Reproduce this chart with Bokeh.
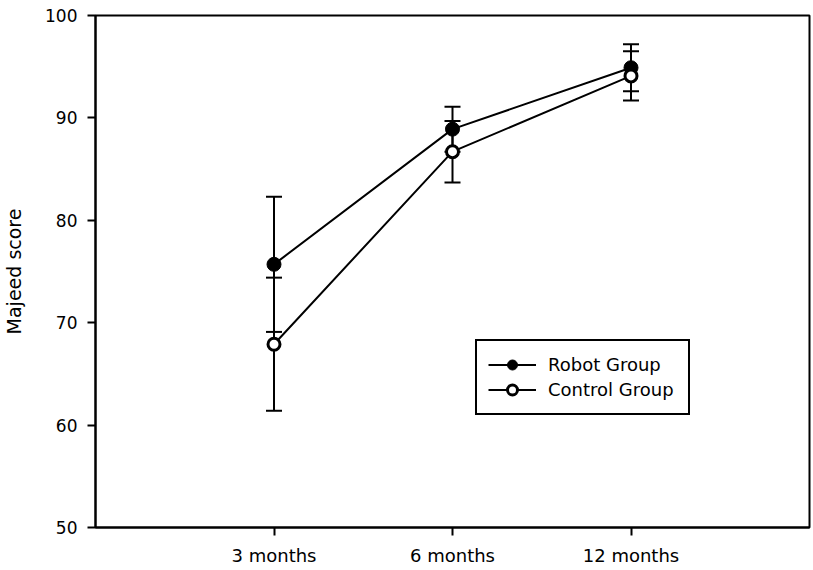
from bokeh.plotting import figure
from bokeh.models import (ColumnDataSource, Whisker, TeeHead, FixedTicker,
                          Legend, LegendItem)
from bokeh.embed import file_html
from bokeh.resources import INLINE

# ---- data ----
months = ["3 months", "6 months", "12 months"]
robot_mean = [75.7, 88.9, 94.9]
robot_sd = [6.6, 2.2, 2.3]
control_mean = [67.9, 86.7, 94.1]
control_sd = [6.5, 3.0, 2.4]
y_ticks = [50, 60, 70, 80, 90, 100]

FONT = "DejaVu Sans"
xpos = [i + 1 for i in range(len(months))]

robot_src = ColumnDataSource(dict(
    x=xpos, y=robot_mean,
    upper=[m + s for m, s in zip(robot_mean, robot_sd)],
    lower=[m - s for m, s in zip(robot_mean, robot_sd)]))
control_src = ColumnDataSource(dict(
    x=xpos, y=control_mean,
    upper=[m + s for m, s in zip(control_mean, control_sd)],
    lower=[m - s for m, s in zip(control_mean, control_sd)]))

p = figure(width=811, height=568, x_range=(0, 4), y_range=(50, 100),
           output_backend="svg", toolbar_location=None,
           min_border_left=95, min_border_right=2, min_border_top=15,
           min_border_bottom=40)
p.background_fill_color = "white"
p.border_fill_color = "white"
p.outline_line_color = "black"
p.outline_line_width = 2
p.outline_line_alpha = 1.0
p.xgrid.visible = False
p.ygrid.visible = False

# error bars
for src in (robot_src, control_src):
    w = Whisker(base="x", upper="upper", lower="lower", source=src,
                line_color="black", line_width=2,
                upper_head=TeeHead(size=16, line_width=2, line_color="black"),
                lower_head=TeeHead(size=16, line_width=2, line_color="black"),
                level="underlay")
    p.add_layout(w)

r_line = p.line("x", "y", source=robot_src, line_color="black", line_width=2)
c_line = p.line("x", "y", source=control_src, line_color="black", line_width=2)
r_pts = p.scatter("x", "y", source=robot_src, size=14, marker="circle",
                  fill_color="black", line_color="black", line_width=1)
c_pts = p.scatter("x", "y", source=control_src, size=12, marker="circle",
                  fill_color="white", line_color="black", line_width=3)

# axes
p.xaxis.ticker = FixedTicker(ticks=xpos)
p.xaxis.major_label_overrides = {x: m for x, m in zip(xpos, months)}
p.yaxis.ticker = FixedTicker(ticks=y_ticks)
for ax in (p.xaxis, p.yaxis):
    ax.axis_line_color = "black"
    ax.axis_line_width = 2
    ax.major_tick_line_color = "black"
    ax.major_tick_line_width = 2
    ax.major_tick_in = 0
    ax.major_tick_out = 8
    ax.minor_tick_line_color = None
    ax.major_label_text_font = FONT
    ax.major_label_text_color = "black"
p.xaxis.major_label_text_font_size = "18px"
p.yaxis.major_label_text_font_size = "17px"
p.xaxis.major_label_standoff = 9
p.yaxis.major_label_standoff = 10
p.yaxis.axis_label = "Majeed score"
p.yaxis.axis_label_text_font = FONT
p.yaxis.axis_label_text_font_size = "19px"
p.yaxis.axis_label_text_font_style = "normal"
p.yaxis.axis_label_text_color = "black"
p.yaxis.axis_label_standoff = 17

legend = Legend(items=[
    LegendItem(label="Robot Group", renderers=[r_line, r_pts]),
    LegendItem(label="Control Group", renderers=[c_line, c_pts]),
], location=(380, 112), margin=0, padding=11, spacing=0,
    glyph_width=48, glyph_height=25, label_height=25, label_standoff=12,
    label_width=129,
    label_text_font=FONT, label_text_font_size="18px",
    label_text_color="black",
    border_line_color="black", border_line_width=2, border_line_alpha=1.0,
    background_fill_color="white", background_fill_alpha=1.0)
p.add_layout(legend)

open("out.html", "w").write(file_html(p, INLINE))
